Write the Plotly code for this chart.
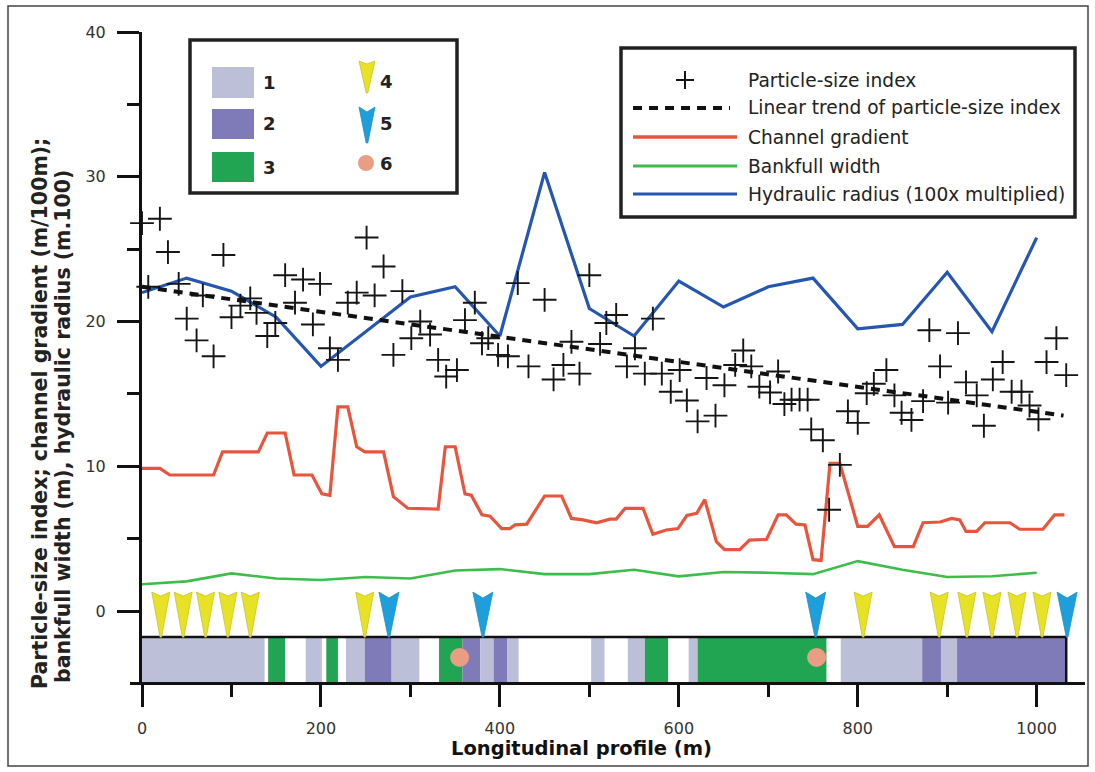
import plotly.graph_objects as go

# ---------------- data ----------------
# Particle-size index measured along the longitudinal profile (m)
psi_x = [0, 7, 20, 29, 41, 50, 61, 68, 80, 91, 100, 110, 121, 128, 140, 149, 160, 171, 180, 191,
         199, 210, 219, 230, 240, 251, 260, 270, 281, 291, 301, 311, 322, 331, 340, 352, 361, 372,
         380, 387, 398, 409, 420, 432, 450, 460, 471, 480, 489, 500, 512, 519, 530, 542, 551, 562,
         571, 581, 591, 601, 609, 621, 631, 641, 651, 663, 672, 681, 690, 702, 711, 718, 726, 735,
         744, 748, 761, 768, 780, 789, 800, 810, 818, 832, 841, 849, 860, 873, 880, 892, 901, 912,
         921, 933, 941, 951, 962, 972, 983, 992, 1002, 1011, 1022, 1033]
psi_y = [26.8, 22.4, 27.1, 24.8, 22.6, 20.2, 18.7, 21.8, 17.6, 24.6, 20.3, 21.1, 21.6, 20.6, 19.0,
         19.9, 23.2, 21.3, 22.9, 19.8, 22.6, 18.15, 17.35, 21.3, 22.0, 25.8, 21.8, 23.8, 17.7, 22.1,
         18.85, 20.0, 19.1, 17.35, 16.2, 16.65, 20.1, 21.3, 18.5, 18.85, 17.7, 17.6, 22.65, 16.9,
         21.5, 16.0, 17.0, 18.6, 16.4, 23.2, 18.45, 19.9, 20.45, 16.9, 18.15, 16.4, 20.2, 16.4,
         15.15, 16.65, 14.55, 13.1, 16.1, 13.5, 15.6, 17.0, 18.0, 16.9, 15.5, 15.1, 16.55, 14.3,
         14.6, 14.6, 14.6, 12.55, 11.8, 7.0, 10.1, 13.8, 13.0, 15.05, 15.7, 16.65, 14.9, 13.7, 13.2,
         14.5, 19.4, 16.9, 14.4, 19.2, 15.8, 14.9, 12.8, 16.0, 17.2, 15.15, 15.15, 14.2, 13.25,
         17.2, 18.85, 16.3]

# Linear trend of the particle-size index (end points)
trend_x = [0, 1030]
trend_y = [22.4, 13.5]

# Channel gradient (m/100 m)
grad_x = [0, 20, 31, 80, 90, 130, 140, 160, 170, 190, 201, 210, 219, 230, 240, 249, 270, 281, 297,
          331, 339, 350, 361, 368, 380, 389, 402, 411, 417, 430, 450, 469, 480, 493, 508, 523, 530,
          540, 560, 571, 586, 599, 609, 620, 629, 642, 651, 668, 679, 698, 711, 720, 731, 741, 750,
          759, 769, 780, 800, 811, 824, 841, 862, 873, 892, 905, 914, 921, 933, 942, 970, 981, 1007,
          1020, 1031]
grad_y = [9.85, 9.85, 9.4, 9.4, 11.0, 11.0, 12.3, 12.3, 9.4, 9.4, 8.1, 8.0, 14.1, 14.1, 11.35, 11.0,
          11.0, 7.9, 7.1, 7.05, 11.35, 11.35, 8.1, 8.0, 6.65, 6.55, 5.7, 5.7, 5.95, 6.0, 7.95, 7.95,
          6.4, 6.3, 6.1, 6.35, 6.35, 7.1, 7.1, 5.3, 5.6, 5.7, 6.6, 6.75, 7.7, 4.8, 4.25, 4.25, 4.9,
          4.95, 6.65, 6.65, 6.0, 5.95, 3.55, 3.5, 10.2, 10.2, 5.85, 5.85, 6.65, 4.45, 4.45, 6.1, 6.15,
          6.4, 6.3, 5.5, 5.5, 6.1, 6.1, 5.65, 5.65, 6.65, 6.65]

# Bankfull width (m)
width_x = [0, 50, 100, 150, 200, 250, 300, 350, 400, 450, 500, 550, 600, 650, 700, 750, 800, 850,
           900, 950, 1000]
width_y = [1.85, 2.05, 2.6, 2.25, 2.15, 2.35, 2.25, 2.8, 2.9, 2.55, 2.55, 2.85, 2.4, 2.7, 2.65,
           2.55, 3.45, 2.85, 2.35, 2.4, 2.65]

# Hydraulic radius (x100)
radius_x = [0, 50, 100, 150, 200, 300, 350, 400, 450, 500, 550, 600, 650, 700, 750, 800, 850, 900,
            950, 1000]
radius_y = [22.0, 23.0, 22.1, 20.3, 16.9, 21.7, 22.4, 19.0, 30.3, 20.9, 19.0, 22.8, 21.0, 22.4,
            23.0, 19.5, 19.8, 23.4, 19.3, 25.8]

# Reach classes along the channel (start m, end m, class 1/2/3)
seg_start = [0, 141, 183, 206, 228, 249, 279, 332, 358, 378, 393, 408, 502, 543, 562, 611, 621,
             781, 872, 893, 911]
seg_end = [137, 160, 201, 219, 249, 279, 310, 358, 378, 393, 408, 421, 517, 562, 588, 621, 765,
           872, 893, 911, 1033]
seg_class = [1, 3, 1, 3, 1, 2, 1, 3, 2, 1, 2, 1, 1, 1, 3, 1, 3, 1, 2, 1, 2]

# Point features: 4 (yellow), 5 (blue), 6 (circle)
feat4_x = [21, 46, 71, 96, 121, 249, 806, 891, 922, 950, 978, 1006]
feat5_x = [276, 381, 753, 1034]
feat6_x = [355, 754]
feat6_y = [-3.2, -3.2]

legend_names = ["Particle-size index", "Linear trend of particle-size index",
                "Channel gradient", "Bankfull width", "Hydraulic radius (100x multiplied)"]
class_labels = ["1", "2", "3"]
feature_labels = ["4", "5", "6"]

# ---------------- styling ----------------
W, H = 1095, 772
L, R, T, B = 142, 10, 32, 90
PW, PH = W - L - R, H - T - B
X_RANGE = [0, 1054]
Y_RANGE = [-4.9, 40]
STRIP_TOP = -1.8
STRIP_BOTTOM = Y_RANGE[0]

CLASS_COLORS = {1: "#BCBFD8", 2: "#7E7BB8", 3: "#21A552"}
YELLOW = "#E8E226"
BLUE_TRI = "#1E9FDC"
SALMON = "#E99E84"
RED = "#E8553D"
GREEN = "#3DBE4B"
BLUE = "#2556B0"
FONT = "DejaVu Sans, Arial, sans-serif"


def px(xp):
    return (xp - L) / PW


def py(yp):
    return (T + PH - yp) / PH


def arrow_path(hw, h, notch):
    return f"M {-hw},{h} L 0,{h - notch} L {hw},{h} L 0.8,0 L -0.8,0 Z"


fig = go.Figure()

fig.add_trace(go.Scatter(x=grad_x, y=grad_y, mode="lines",
                         line=dict(color=RED, width=3.2), cliponaxis=False))
fig.add_trace(go.Scatter(x=width_x, y=width_y, mode="lines",
                         line=dict(color=GREEN, width=2.6), cliponaxis=False))
fig.add_trace(go.Scatter(x=radius_x, y=radius_y, mode="lines",
                         line=dict(color=BLUE, width=3.2), cliponaxis=False))
fig.add_trace(go.Scatter(x=psi_x, y=psi_y, mode="markers", cliponaxis=False,
                         marker=dict(symbol="cross-thin", size=17,
                                     line=dict(width=1.9, color="#151515"))))
fig.add_trace(go.Scatter(x=trend_x, y=trend_y, mode="lines",
                         line=dict(color="#111111", width=4, dash="9px,7px")))
fig.add_trace(go.Scatter(x=feat6_x, y=feat6_y, mode="markers", cliponaxis=False,
                         marker=dict(symbol="circle", size=19, color=SALMON, line=dict(width=0))))

shapes = []
# reach-class strip
for s, e, c in zip(seg_start, seg_end, seg_class):
    shapes.append(dict(type="rect", xref="x", yref="y", x0=s, x1=e, y0=STRIP_BOTTOM, y1=STRIP_TOP,
                       fillcolor=CLASS_COLORS[c], line=dict(width=0), layer="below"))
strip_end = max(seg_end)
shapes.append(dict(type="line", xref="x", yref="y", x0=0, x1=strip_end, y0=STRIP_TOP, y1=STRIP_TOP,
                   line=dict(color="#111", width=2.5)))
shapes.append(dict(type="line", xref="x", yref="y", x0=strip_end, x1=strip_end, y0=STRIP_BOTTOM,
                   y1=STRIP_TOP, line=dict(color="#111", width=2.5)))

# arrow markers above the strip
for xv in feat4_x:
    shapes.append(dict(type="path", xref="x", yref="y", xsizemode="pixel", ysizemode="pixel",
                       xanchor=xv, yanchor=STRIP_TOP, path=arrow_path(9, 45, 4),
                       fillcolor=YELLOW, line=dict(color="#C9C22A", width=0.8)))
for xv in feat5_x:
    shapes.append(dict(type="path", xref="x", yref="y", xsizemode="pixel", ysizemode="pixel",
                       xanchor=xv, yanchor=STRIP_TOP, path=arrow_path(10, 45, 6),
                       fillcolor=BLUE_TRI, line=dict(color="#1890C8", width=0.8)))

# x-axis line continues a little to the left of the y axis
shapes.append(dict(type="line", xref="paper", yref="paper", x0=px(130), x1=px(142), y0=py(683.5),
                   y1=py(683.5), line=dict(color="#111", width=3)))

# outer frame
shapes.append(dict(type="rect", xref="paper", yref="paper", x0=px(8), x1=px(1088), y0=py(766),
                   y1=py(6), line=dict(color="#444", width=1.5)))

# left legend box
shapes.append(dict(type="rect", xref="paper", yref="paper", x0=px(190), x1=px(457), y0=py(193),
                   y1=py(40), fillcolor="white", line=dict(color="#222", width=3.5)))
swatch_rows = [(67, 98), (109, 139), (152, 182)]
annotations = []
for (top, bot), cls, lab in zip(swatch_rows, [1, 2, 3], class_labels):
    shapes.append(dict(type="rect", xref="paper", yref="paper", x0=px(212), x1=px(254),
                       y0=py(bot), y1=py(top), fillcolor=CLASS_COLORS[cls], line=dict(width=0)))
    annotations.append(dict(xref="paper", yref="paper", x=px(261), y=py((top + bot) / 2), text=lab,
                            showarrow=False, xanchor="left", yanchor="middle",
                            font=dict(family=FONT, size=18, color="#222", weight="bold")))
shapes.append(dict(type="path", xref="paper", yref="paper", xsizemode="pixel", ysizemode="pixel",
                   xanchor=px(367), yanchor=py(93), path=arrow_path(8, 32, 3),
                   fillcolor=YELLOW, line=dict(color="#C9C22A", width=0.8)))
shapes.append(dict(type="path", xref="paper", yref="paper", xsizemode="pixel", ysizemode="pixel",
                   xanchor=px(367), yanchor=py(143), path=arrow_path(8, 36, 5),
                   fillcolor=BLUE_TRI, line=dict(color="#1890C8", width=0.8)))
shapes.append(dict(type="circle", xref="paper", yref="paper", xsizemode="pixel", ysizemode="pixel",
                   xanchor=px(366), yanchor=py(163), x0=-8, x1=8, y0=-8, y1=8,
                   fillcolor=SALMON, line=dict(width=0)))
for yc, lab in zip([82, 123, 163], feature_labels):
    annotations.append(dict(xref="paper", yref="paper", x=px(378), y=py(yc), text=lab,
                            showarrow=False, xanchor="left", yanchor="middle",
                            font=dict(family=FONT, size=18, color="#222", weight="bold")))

# right legend box
shapes.append(dict(type="rect", xref="paper", yref="paper", x0=px(621), x1=px(1075), y0=py(217),
                   y1=py(48), fillcolor="white", line=dict(color="#222", width=3.5)))
row_y = [80, 108, 137, 166, 194]
# "+" sample
shapes.append(dict(type="line", xref="paper", yref="paper", x0=px(676), x1=px(694), y0=py(80),
                   y1=py(80), line=dict(color="#151515", width=2)))
shapes.append(dict(type="line", xref="paper", yref="paper", x0=px(685), x1=px(685), y0=py(71),
                   y1=py(89), line=dict(color="#151515", width=2)))
shapes.append(dict(type="line", xref="paper", yref="paper", x0=px(633), x1=px(730), y0=py(108),
                   y1=py(108), line=dict(color="#111", width=4, dash="9px,7px")))
for yc, col, wd in zip(row_y[2:], [RED, GREEN, BLUE], [3.5, 3, 3]):
    shapes.append(dict(type="line", xref="paper", yref="paper", x0=px(633), x1=px(737), y0=py(yc),
                       y1=py(yc), line=dict(color=col, width=wd)))
for yc, name in zip(row_y, legend_names):
    annotations.append(dict(xref="paper", yref="paper", x=px(746), y=py(yc), text=name,
                            showarrow=False, xanchor="left", yanchor="middle",
                            font=dict(family=FONT, size=18.6, color="#222")))

# axis titles
annotations.append(dict(xref="paper", yref="paper", x=px(581), y=py(748),
                        text="Longitudinal profile (m)", showarrow=False,
                        xanchor="center", yanchor="middle",
                        font=dict(family=FONT, size=19.5, color="#111", weight="bold")))
annotations.append(dict(xref="paper", yref="paper", x=px(40), y=py(414),
                        text="Particle-size index; channel gradient (m/100m);", showarrow=False,
                        textangle=-90, xanchor="center", yanchor="middle",
                        font=dict(family=FONT, size=20.5, color="#222", weight="bold")))
annotations.append(dict(xref="paper", yref="paper", x=px(63), y=py(427),
                        text="bankfull width (m), hydraulic radius (m.100)", showarrow=False,
                        textangle=-90, xanchor="center", yanchor="middle",
                        font=dict(family=FONT, size=20.5, color="#222", weight="bold")))

axis_common = dict(showline=True, linecolor="#111", linewidth=3, ticks="outside", ticklen=22,
                   tickwidth=3, tickcolor="#111", showgrid=False, zeroline=False,
                   ticklabelstandoff=8,
                   tickfont=dict(family=FONT, size=16, color="#333"))

fig.update_layout(
    width=W, height=H,
    margin=dict(l=L, r=R, t=T, b=B),
    paper_bgcolor="white", plot_bgcolor="white",
    showlegend=False,
    shapes=shapes,
    annotations=annotations,
    xaxis=dict(range=X_RANGE, tickvals=[0, 200, 400, 600, 800, 1000],
               minor=dict(ticks="outside", ticklen=12, tickwidth=3, tickcolor="#111",
                          tickvals=[100, 300, 500, 700, 900]),
               **axis_common),
    yaxis=dict(range=Y_RANGE, tickvals=[0, 10, 20, 30, 40],
               minor=dict(ticks="outside", ticklen=12, tickwidth=3, tickcolor="#111",
                          tickvals=[5, 15, 25, 35]),
               **axis_common),
)

fig.write_html("out.html")
